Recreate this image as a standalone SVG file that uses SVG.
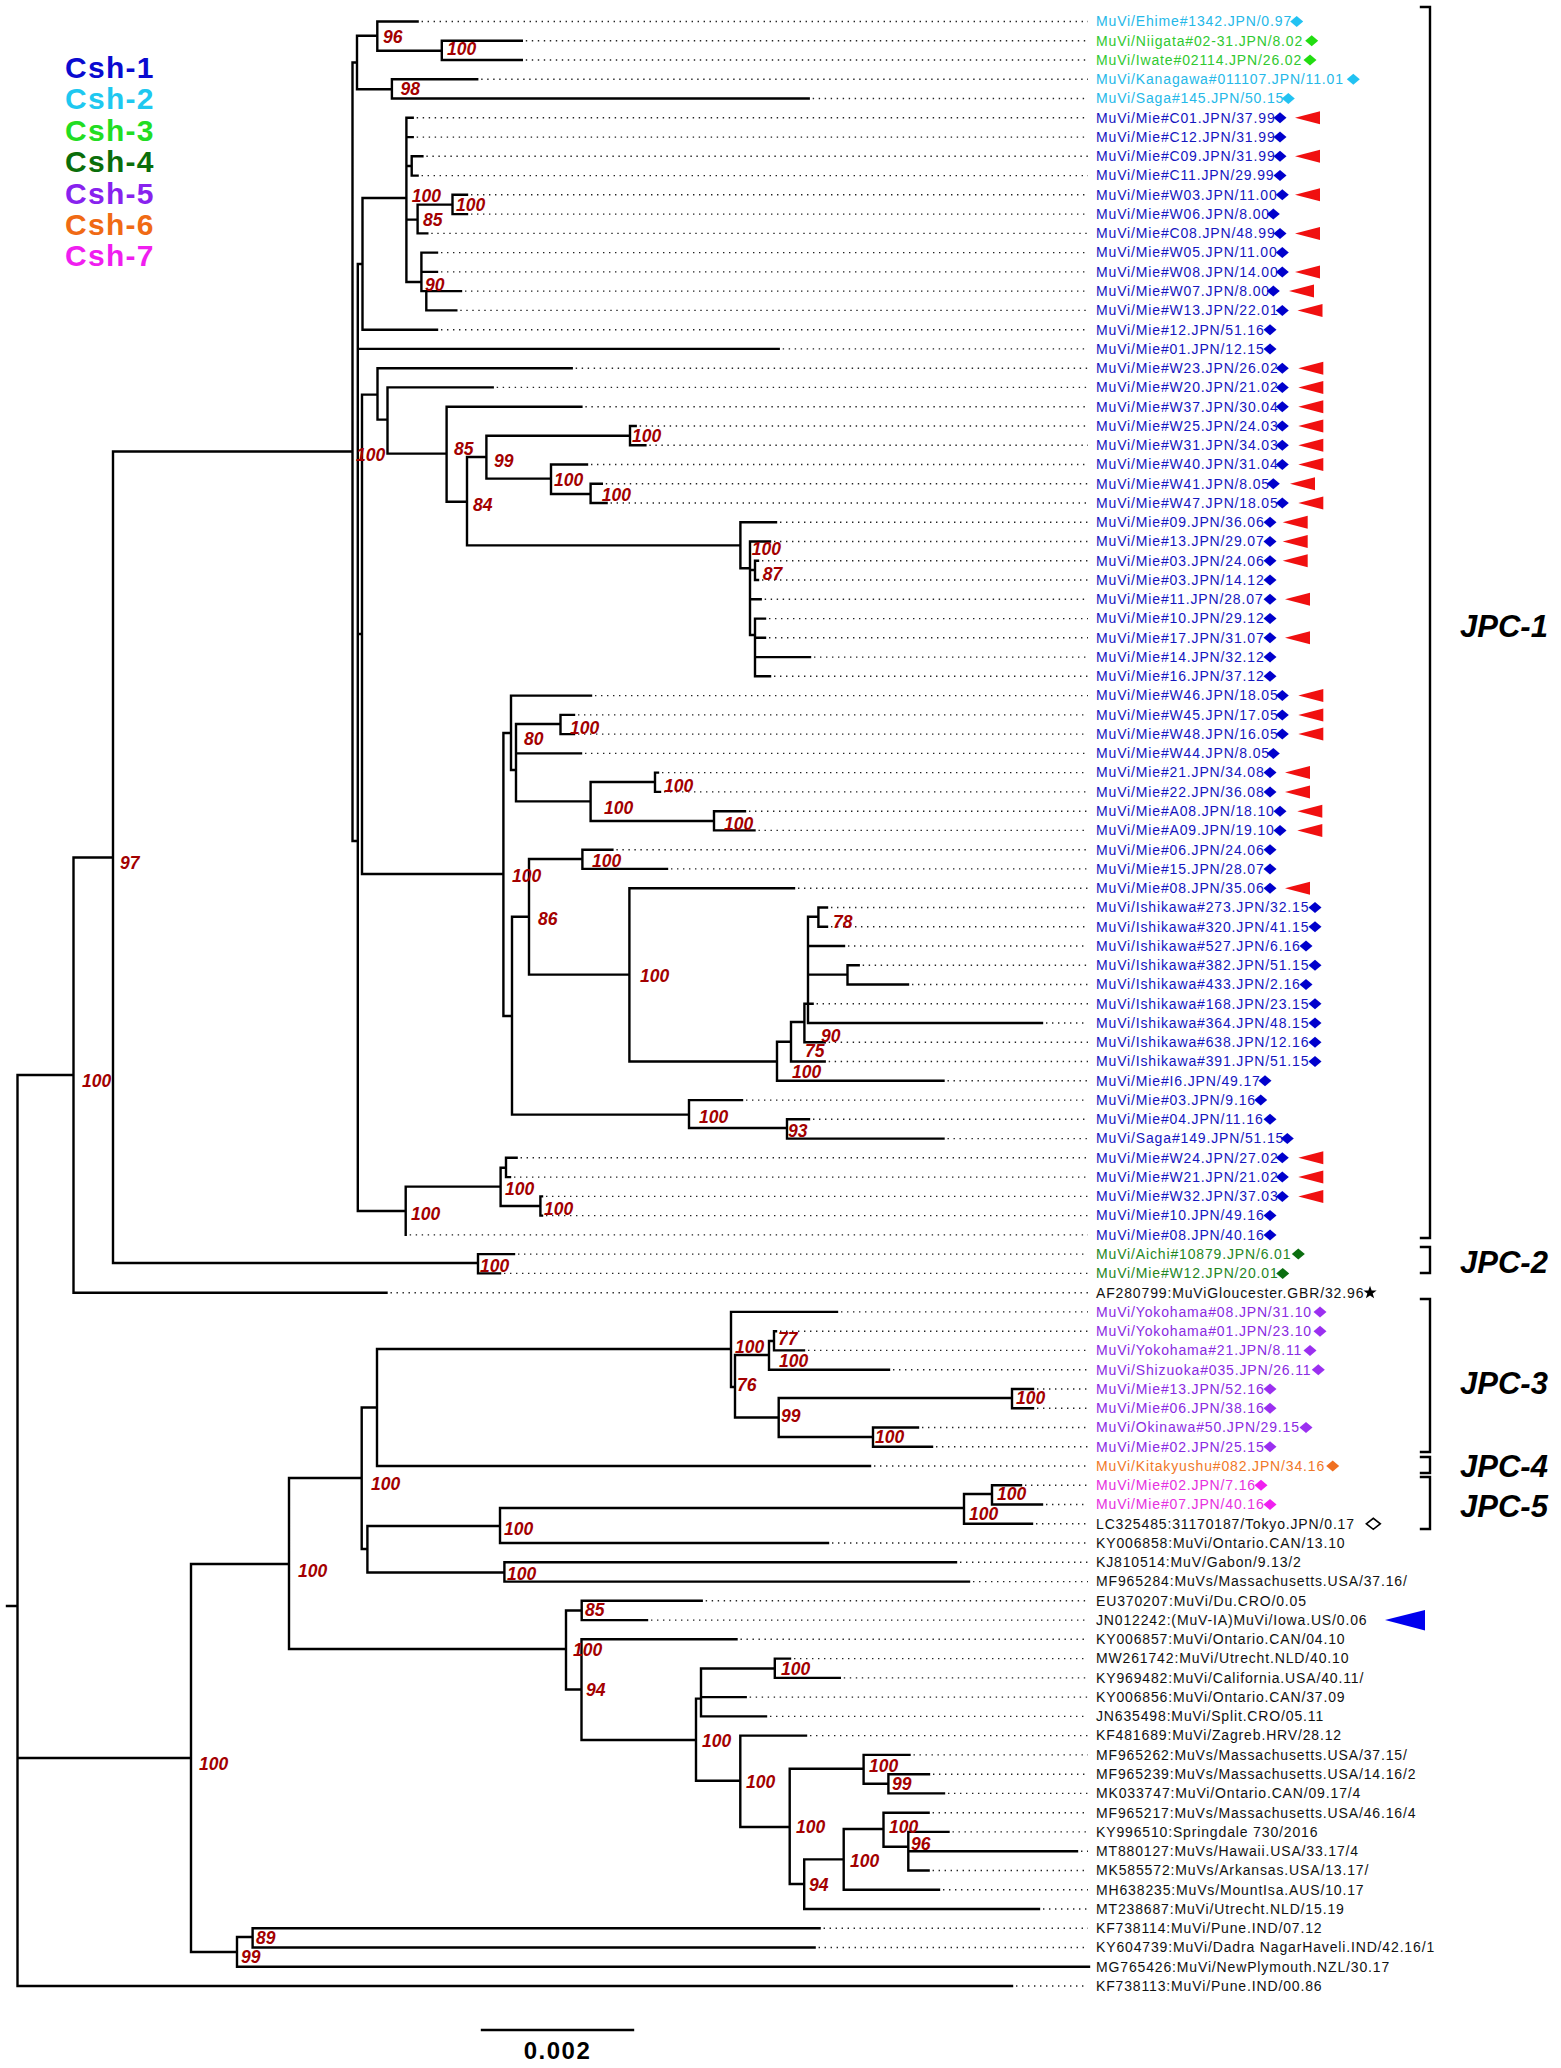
<svg xmlns="http://www.w3.org/2000/svg" xmlns:xlink="http://www.w3.org/1999/xlink" width="1561" height="2068" viewBox="0 0 1561 2068">
<style>
.br{fill:none;stroke:#000;stroke-width:2.4;stroke-linecap:square}
.dt{fill:none;stroke:#222;stroke-width:1.4;stroke-dasharray:1.4 4.6}
.bs{font-family:"Liberation Sans",Arial,sans-serif;font-size:17.5px;font-weight:bold;font-style:italic;fill:#a30000}
.lb{font-family:"Liberation Sans",Arial,sans-serif;font-size:14px;letter-spacing:0.85px}
.lg{font-family:"Liberation Sans",Arial,sans-serif;font-size:30px;font-weight:bold;letter-spacing:1.3px}
.jp{font-family:"Liberation Sans",Arial,sans-serif;font-size:31px;font-weight:bold;font-style:italic;fill:#000}
.c1{fill:#1515c0}.c2{fill:#25b8e8}.c3{fill:#30c830}.c4{fill:#1f861f}.c5{fill:#8a2be2}.c6{fill:#f07828}.c7{fill:#e630e0}.c0{fill:#111}
.d1{fill:#0000cc}.d2{fill:#22c2f2}.d3{fill:#22dd11}.d4{fill:#0b6e10}.d5{fill:#9b30f0}.d6{fill:#f07020}.d7{fill:#f020f0}
.ra{fill:#f01010}
</style>
<defs>
<path id="dm" d="M-6.5 0L0-5.5L6.5 0L0 5.5Z"/>
<path id="ra" d="M0 0L25-6.5V6.5Z"/>
</defs>
<g id="legend">
<text class="lg" x="65" y="78" fill="#0a0ad0">Csh-1</text>
<text class="lg" x="65" y="109.4" fill="#1ec8f0">Csh-2</text>
<text class="lg" x="65" y="140.8" fill="#22dd22">Csh-3</text>
<text class="lg" x="65" y="172.2" fill="#0a6e0a">Csh-4</text>
<text class="lg" x="65" y="203.6" fill="#8822ee">Csh-5</text>
<text class="lg" x="65" y="235" fill="#f06a14">Csh-6</text>
<text class="lg" x="65" y="266.4" fill="#f01ef0">Csh-7</text>
</g>
<g id="connectors">
<path class="br" d="M7 1606H17.5M17.5 1075V1986M17.5 1075H73.5M17.5 1758H191M17.5 1986H1012
M73.5 857.5V1292.7M73.5 857.5H113M73.5 1292.7H386.5
M113 451.5V1263M113 451.5H352.5M113 1263H478
M478 1254.1V1273.4M478 1254.1H514M478 1273.4H500
M352.5 62.5V841M352.5 62.5H357M352.5 841H357.8
M357 35.7V89.3M357 35.7H377.3M357 89.3H391.9
M377.3 21.5V50.7M377.3 21.5H417.6M377.3 50.7H441.8
M441.8 40.8V60M441.8 40.8H521.8M441.8 60H521.8
M391.9 79.3V98.5M391.9 79.3H477.2M391.9 98.5H808.7
M357.8 264V1211M357.8 264H362.5M357.8 348.9H778.7M357.8 634H362M357.8 1211H405.7
M362.5 198V329.7M362.5 198H406.4M362.5 329.7H437
M406.4 117.8V282M406.4 117.8H412.7M406.4 137.1H412.7M406.4 166H411.7M406.4 219.6H417.6M406.4 282H421.4
M411.7 156.3V175.6M411.7 156.3H422.4M411.7 175.6H417.6
M417.6 204.6V233.4M417.6 204.6H452.5M417.6 233.4H427.3
M452.5 194.8V214.1M452.5 194.8H467M452.5 214.1H467
M421.4 252.6V291.1M421.4 252.6H437M421.4 271.9H437M421.4 291.1H426.3
M426.3 291.1V310.4M426.3 291.1H461M426.3 310.4H456.3
M362 394.6V874M362 394.6H377.5M362 874H503.4
M377.5 368.2V419.6M377.5 368.2H571.7M377.5 419.6H387.5
M387.5 387.4V453.6M387.5 387.4H492.7M387.5 453.6H446.6
M446.6 406.7V501.8M446.6 406.7H581.4M446.6 501.8H467
M467 457V545.4M467 457H486.4M467 545.4H740.4
M486.4 435.7V478.6M486.4 435.7H630M486.4 478.6H551
M630 426V445.2M630 426H635.7M630 445.2H645.4
M551 464.5V494M551 464.5H587M551 494H590.6
M590.6 483.7V503M590.6 483.7H601.8M590.6 503H606.6
M740.4 522.3V568.3M740.4 522.3H776M740.4 568.3H750
M750 541.5V635M750 541.5H770M750 570H755M750 599.3H760.7M750 635H755
M755 560.8V580M755 560.8H758M755 580H758
M755 618.6V676.3M755 618.6H765M755 637.8H765M755 657.1H810M755 676.3H770
M503.4 733V1016M503.4 733H511M503.4 1016H512
M511 695.6V770M511 695.6H591M511 770H516
M516 724V801.4M516 724H560.5M516 753.4H581M516 801.4H590.6
M560.5 714.9V734.1M560.5 714.9H574M560.5 734.1H574
M590.6 782V821M590.6 782H655M590.6 821H714
M655 772.6V791.9M655 772.6H658M655 791.9H660
M714 811.2V830.4M714 811.2H745M714 830.4H754.5
M512 916.7V1114.6M512 916.7H529M512 1114.6H689
M529 859V974.6M529 859H582.4M529 974.6H629.4
M582.4 849.7V868.9M582.4 849.7H612.4M582.4 868.9H667
M629.4 888.2V1061.5M629.4 888.2H794M629.4 1061.5H777
M777 1041.8V1080.8M777 1041.8H791M777 1080.8H943.5
M791 1022V1061.5M791 1022H804.4M791 1061.5H824.7
M804.4 1003.8V1042.3M804.4 1003.8H808M804.4 1042.3H824.7
M808 916.8V1023M808 916.8H818.4M808 946H844M808 974.6H847.5M808 1003.8H812.6M808 1023H1042
M818.4 907.5V926.7M818.4 907.5H827M818.4 926.7H827
M847.5 965.2V984.5M847.5 965.2H858.7M847.5 984.5H908
M689 1100.1V1128M689 1100.1H742M689 1128H787
M787 1119.3V1138.6M787 1119.3H809M787 1138.6H943.5
M405.7 1186.6V1234.9M405.7 1186.6H500.6
M500.6 1167.8V1206M500.6 1167.8H506M500.6 1206H540.4
M506 1157.8V1177.1M506 1157.8H516.6M506 1177.1H510
M540.4 1196.4V1215.6M540.4 1196.4H542M540.4 1215.6H542
M191 1564V1952M191 1564H289M191 1952H237
M237 1937V1966.8M237 1937H252.6M237 1966.8H1089
M252.6 1928.2V1947.5M252.6 1928.2H819.6M252.6 1947.5H814.6
M289 1478V1649M289 1478H361.7M289 1649H566
M361.7 1407.5V1549M361.7 1407.5H377M361.7 1549H367.4
M377 1349V1466M377 1349H731M377 1466H870
M731 1311.9V1387M731 1311.9H837M731 1387H735
M735 1355V1417.5M735 1355H769M735 1417.5H778.7
M769 1341V1369.7M769 1341H774M769 1369.7H889
M774 1331.2V1350.4M774 1331.2H776M774 1350.4H804
M778.7 1398V1437M778.7 1398H1012M778.7 1437H873
M1012 1389V1408.2M1012 1389H1033M1012 1408.2H1033
M873 1427.5V1446.7M873 1427.5H918M873 1446.7H932
M367.4 1526V1572.5M367.4 1526H500M367.4 1572.5H504.4
M500 1508V1543M500 1508H964M500 1543H828
M964 1494V1523.8M964 1494H992M964 1523.8H1032
M992 1485.3V1504.5M992 1485.3H1021M992 1504.5H1042
M504.4 1562.3V1581.6M504.4 1562.3H956M504.4 1581.6H969
M566 1610.5V1689.5M566 1610.5H581.7M566 1689.5H581.5
M581.7 1600.8V1620.1M581.7 1600.8H701.7M581.7 1620.1H647
M581.5 1639.3V1740M581.5 1639.3H736.5M581.5 1740H696
M696 1698.6V1780.8M696 1698.6H701M696 1780.8H740.3
M701 1668.5V1716.4M701 1668.5H774.8M701 1697.1H745.7M701 1716.4H766
M774.8 1658.6V1677.9M774.8 1658.6H790M774.8 1677.9H839.8
M740.3 1735.6V1827M740.3 1735.6H806M740.3 1827H789.7
M789.7 1768.8V1884M789.7 1768.8H863.6M789.7 1884H804.2
M863.6 1754.9V1783.7M863.6 1754.9H909.5M863.6 1783.7H888.4
M888.4 1774.2V1793.4M888.4 1774.2H929M888.4 1793.4H944
M804.2 1859.4V1909M804.2 1859.4H843.7M804.2 1909H1039
M843.7 1829V1889.7M843.7 1829H883.5M843.7 1889.7H939
M883.5 1812.7V1846.7M883.5 1812.7H928.6M883.5 1846.7H908.3
M908.3 1831.9V1870.5M908.3 1831.9H948.5M908.3 1851.2H1077M908.3 1870.5H928.6"/>
<path class="dt" d="M421.6 21.5H1088M525.8 40.8H1088M525.8 60H1088M481.2 79.3H1088M812.7 98.5H1088M416.7 117.8H1088M416.7 137.1H1088M426.4 156.3H1088M421.6 175.6H1088M471 194.8H1088M471 214.1H1088M431.3 233.4H1088M441 252.6H1088M441 271.9H1088M465 291.1H1088M460.3 310.4H1088M441 329.7H1088M782.7 348.9H1088M575.7 368.2H1088M496.7 387.4H1088M585.4 406.7H1088M639.7 426H1088M649.4 445.2H1088M591 464.5H1088M605.8 483.7H1088M610.6 503H1088M780 522.3H1088M774 541.5H1088M762 560.8H1088M762 580H1088M764.7 599.3H1088M769 618.6H1088M769 637.8H1088M814 657.1H1088M774 676.3H1088M595 695.6H1088M578 714.9H1088M578 734.1H1088M585 753.4H1088M662 772.6H1088M664 791.9H1088M749 811.2H1088M758.5 830.4H1088M616.4 849.7H1088M671 868.9H1088M798 888.2H1088M831 907.5H1088M831 926.7H1088M848 946H1088M862.7 965.2H1088M912 984.5H1088M816.6 1003.8H1088M1046 1023H1088M828.7 1042.3H1088M828.7 1061.5H1088M947.5 1080.8H1088M746 1100.1H1088M813 1119.3H1088M947.5 1138.6H1088M520.6 1157.8H1088M514 1177.1H1088M546 1196.4H1088M546 1215.6H1088M409.7 1234.9H1088M518 1254.1H1088M504 1273.4H1088M390.5 1292.7H1088M841 1311.9H1088M780 1331.2H1088M808 1350.4H1088M893 1369.7H1088M1037 1389H1088M1037 1408.2H1088M922 1427.5H1088M936 1446.7H1088M874 1466H1088M1025 1485.3H1088M1046 1504.5H1088M1036 1523.8H1088M832 1543H1088M960 1562.3H1088M973 1581.6H1088M705.7 1600.8H1088M651 1620.1H1088M740.5 1639.3H1088M794 1658.6H1088M843.8 1677.9H1088M749.7 1697.1H1088M770 1716.4H1088M810 1735.6H1088M913.5 1754.9H1088M933 1774.2H1088M948 1793.4H1088M932.6 1812.7H1088M952.5 1831.9H1088M1081 1851.2H1088M932.6 1870.5H1088M943 1889.7H1088M1043 1909H1088M823.6 1928.2H1088M818.6 1947.5H1088M1016 1986H1088"/>
</g>
<g id="support">
<text class="bs" x="383" y="42.8">96</text>
<text class="bs" x="447" y="55.3">100</text>
<text class="bs" x="400.6" y="94.6">98</text>
<text class="bs" x="411.7" y="202.4">100</text>
<text class="bs" x="456" y="211">100</text>
<text class="bs" x="423" y="225.6">85</text>
<text class="bs" x="425" y="290.6">90</text>
<text class="bs" x="356" y="461">100</text>
<text class="bs" x="454" y="455">85</text>
<text class="bs" x="494" y="466.7">99</text>
<text class="bs" x="632" y="442.4">100</text>
<text class="bs" x="554" y="486">100</text>
<text class="bs" x="601.8" y="500.6">100</text>
<text class="bs" x="473" y="511">84</text>
<text class="bs" x="751.7" y="555.3">100</text>
<text class="bs" x="762.7" y="580">87</text>
<text class="bs" x="570" y="733.5">100</text>
<text class="bs" x="524" y="745">80</text>
<text class="bs" x="604" y="814">100</text>
<text class="bs" x="664" y="791.7">100</text>
<text class="bs" x="724" y="830">100</text>
<text class="bs" x="592" y="867">100</text>
<text class="bs" x="512" y="882">100</text>
<text class="bs" x="538" y="925">86</text>
<text class="bs" x="833" y="928">78</text>
<text class="bs" x="640" y="982.4">100</text>
<text class="bs" x="821" y="1042">90</text>
<text class="bs" x="805" y="1057">75</text>
<text class="bs" x="792" y="1078">100</text>
<text class="bs" x="699" y="1122.8">100</text>
<text class="bs" x="788" y="1137">93</text>
<text class="bs" x="505" y="1195">100</text>
<text class="bs" x="544" y="1214.6">100</text>
<text class="bs" x="411" y="1219.7">100</text>
<text class="bs" x="480" y="1272">100</text>
<text class="bs" x="120" y="869">97</text>
<text class="bs" x="82" y="1087">100</text>
<text class="bs" x="735" y="1353">100</text>
<text class="bs" x="778" y="1345">77</text>
<text class="bs" x="779" y="1367">100</text>
<text class="bs" x="737" y="1391">76</text>
<text class="bs" x="1016" y="1404">100</text>
<text class="bs" x="781" y="1422">99</text>
<text class="bs" x="875" y="1443">100</text>
<text class="bs" x="371" y="1490">100</text>
<text class="bs" x="997" y="1500">100</text>
<text class="bs" x="969" y="1520">100</text>
<text class="bs" x="504" y="1535">100</text>
<text class="bs" x="298" y="1577">100</text>
<text class="bs" x="507" y="1580">100</text>
<text class="bs" x="585" y="1616">85</text>
<text class="bs" x="573" y="1656">100</text>
<text class="bs" x="781" y="1674.5">100</text>
<text class="bs" x="586" y="1696">94</text>
<text class="bs" x="702" y="1747">100</text>
<text class="bs" x="869" y="1772">100</text>
<text class="bs" x="746" y="1788">100</text>
<text class="bs" x="892" y="1790">99</text>
<text class="bs" x="796" y="1833">100</text>
<text class="bs" x="889" y="1833">100</text>
<text class="bs" x="911" y="1850">96</text>
<text class="bs" x="850" y="1866.5">100</text>
<text class="bs" x="809" y="1891">94</text>
<text class="bs" x="199" y="1770">100</text>
<text class="bs" x="256" y="1944">89</text>
<text class="bs" x="241" y="1963">99</text>
</g>
<g id="leaves">
<g id="leaf-0"><text class="lb c2" x="1096" y="26.3">MuVi/Ehime#1342.JPN/0.97</text><use xlink:href="#dm" class="d2" x="1296.7" y="21.5"/></g>
<g id="leaf-1"><text class="lb c3" x="1096" y="45.6">MuVi/Niigata#02-31.JPN/8.02</text><use xlink:href="#dm" class="d3" x="1311.7" y="40.8"/></g>
<g id="leaf-2"><text class="lb c3" x="1096" y="64.8">MuVi/Iwate#02114.JPN/26.02</text><use xlink:href="#dm" class="d3" x="1310" y="60"/></g>
<g id="leaf-3"><text class="lb c2" x="1096" y="84.1">MuVi/Kanagawa#011107.JPN/11.01</text><use xlink:href="#dm" class="d2" x="1353.3" y="79.3"/></g>
<g id="leaf-4"><text class="lb c2" x="1096" y="103.3">MuVi/Saga#145.JPN/50.15</text><use xlink:href="#dm" class="d2" x="1288.3" y="98.5"/></g>
<g id="leaf-5"><text class="lb c1" x="1096" y="122.6">MuVi/Mie#C01.JPN/37.99</text><use xlink:href="#dm" class="d1" x="1280" y="117.8"/><use xlink:href="#ra" class="ra" x="1295" y="117.8"/></g>
<g id="leaf-6"><text class="lb c1" x="1096" y="141.9">MuVi/Mie#C12.JPN/31.99</text><use xlink:href="#dm" class="d1" x="1280" y="137.1"/></g>
<g id="leaf-7"><text class="lb c1" x="1096" y="161.1">MuVi/Mie#C09.JPN/31.99</text><use xlink:href="#dm" class="d1" x="1280" y="156.3"/><use xlink:href="#ra" class="ra" x="1295" y="156.3"/></g>
<g id="leaf-8"><text class="lb c1" x="1096" y="180.4">MuVi/Mie#C11.JPN/29.99</text><use xlink:href="#dm" class="d1" x="1280" y="175.6"/></g>
<g id="leaf-9"><text class="lb c1" x="1096" y="199.6">MuVi/Mie#W03.JPN/11.00</text><use xlink:href="#dm" class="d1" x="1282.3" y="194.8"/><use xlink:href="#ra" class="ra" x="1295" y="194.8"/></g>
<g id="leaf-10"><text class="lb c1" x="1096" y="218.9">MuVi/Mie#W06.JPN/8.00</text><use xlink:href="#dm" class="d1" x="1273.3" y="214.1"/></g>
<g id="leaf-11"><text class="lb c1" x="1096" y="238.2">MuVi/Mie#C08.JPN/48.99</text><use xlink:href="#dm" class="d1" x="1280" y="233.4"/><use xlink:href="#ra" class="ra" x="1295" y="233.4"/></g>
<g id="leaf-12"><text class="lb c1" x="1096" y="257.4">MuVi/Mie#W05.JPN/11.00</text><use xlink:href="#dm" class="d1" x="1282.3" y="252.6"/></g>
<g id="leaf-13"><text class="lb c1" x="1096" y="276.7">MuVi/Mie#W08.JPN/14.00</text><use xlink:href="#dm" class="d1" x="1282.3" y="271.9"/><use xlink:href="#ra" class="ra" x="1295" y="271.9"/></g>
<g id="leaf-14"><text class="lb c1" x="1096" y="295.9">MuVi/Mie#W07.JPN/8.00</text><use xlink:href="#dm" class="d1" x="1273.3" y="291.1"/><use xlink:href="#ra" class="ra" x="1289" y="291.1"/></g>
<g id="leaf-15"><text class="lb c1" x="1096" y="315.2">MuVi/Mie#W13.JPN/22.01</text><use xlink:href="#dm" class="d1" x="1282.3" y="310.4"/><use xlink:href="#ra" class="ra" x="1297.5" y="310.4"/></g>
<g id="leaf-16"><text class="lb c1" x="1096" y="334.5">MuVi/Mie#12.JPN/51.16</text><use xlink:href="#dm" class="d1" x="1270" y="329.7"/></g>
<g id="leaf-17"><text class="lb c1" x="1096" y="353.7">MuVi/Mie#01.JPN/12.15</text><use xlink:href="#dm" class="d1" x="1270" y="348.9"/></g>
<g id="leaf-18"><text class="lb c1" x="1096" y="373">MuVi/Mie#W23.JPN/26.02</text><use xlink:href="#dm" class="d1" x="1282.3" y="368.2"/><use xlink:href="#ra" class="ra" x="1298.3" y="368.2"/></g>
<g id="leaf-19"><text class="lb c1" x="1096" y="392.2">MuVi/Mie#W20.JPN/21.02</text><use xlink:href="#dm" class="d1" x="1282.3" y="387.4"/><use xlink:href="#ra" class="ra" x="1298.3" y="387.4"/></g>
<g id="leaf-20"><text class="lb c1" x="1096" y="411.5">MuVi/Mie#W37.JPN/30.04</text><use xlink:href="#dm" class="d1" x="1282.3" y="406.7"/><use xlink:href="#ra" class="ra" x="1298.3" y="406.7"/></g>
<g id="leaf-21"><text class="lb c1" x="1096" y="430.8">MuVi/Mie#W25.JPN/24.03</text><use xlink:href="#dm" class="d1" x="1282.3" y="426"/><use xlink:href="#ra" class="ra" x="1298.3" y="426"/></g>
<g id="leaf-22"><text class="lb c1" x="1096" y="450">MuVi/Mie#W31.JPN/34.03</text><use xlink:href="#dm" class="d1" x="1282.3" y="445.2"/><use xlink:href="#ra" class="ra" x="1298.3" y="445.2"/></g>
<g id="leaf-23"><text class="lb c1" x="1096" y="469.3">MuVi/Mie#W40.JPN/31.04</text><use xlink:href="#dm" class="d1" x="1282.3" y="464.5"/><use xlink:href="#ra" class="ra" x="1298.3" y="464.5"/></g>
<g id="leaf-24"><text class="lb c1" x="1096" y="488.5">MuVi/Mie#W41.JPN/8.05</text><use xlink:href="#dm" class="d1" x="1273.3" y="483.7"/><use xlink:href="#ra" class="ra" x="1290" y="483.7"/></g>
<g id="leaf-25"><text class="lb c1" x="1096" y="507.8">MuVi/Mie#W47.JPN/18.05</text><use xlink:href="#dm" class="d1" x="1282.3" y="503"/><use xlink:href="#ra" class="ra" x="1298.3" y="503"/></g>
<g id="leaf-26"><text class="lb c1" x="1096" y="527.1">MuVi/Mie#09.JPN/36.06</text><use xlink:href="#dm" class="d1" x="1270" y="522.3"/><use xlink:href="#ra" class="ra" x="1282.7" y="522.3"/></g>
<g id="leaf-27"><text class="lb c1" x="1096" y="546.3">MuVi/Mie#13.JPN/29.07</text><use xlink:href="#dm" class="d1" x="1270" y="541.5"/><use xlink:href="#ra" class="ra" x="1282.7" y="541.5"/></g>
<g id="leaf-28"><text class="lb c1" x="1096" y="565.6">MuVi/Mie#03.JPN/24.06</text><use xlink:href="#dm" class="d1" x="1270" y="560.8"/><use xlink:href="#ra" class="ra" x="1282.7" y="560.8"/></g>
<g id="leaf-29"><text class="lb c1" x="1096" y="584.8">MuVi/Mie#03.JPN/14.12</text><use xlink:href="#dm" class="d1" x="1270" y="580"/></g>
<g id="leaf-30"><text class="lb c1" x="1096" y="604.1">MuVi/Mie#11.JPN/28.07</text><use xlink:href="#dm" class="d1" x="1270" y="599.3"/><use xlink:href="#ra" class="ra" x="1285" y="599.3"/></g>
<g id="leaf-31"><text class="lb c1" x="1096" y="623.4">MuVi/Mie#10.JPN/29.12</text><use xlink:href="#dm" class="d1" x="1270" y="618.6"/></g>
<g id="leaf-32"><text class="lb c1" x="1096" y="642.6">MuVi/Mie#17.JPN/31.07</text><use xlink:href="#dm" class="d1" x="1270" y="637.8"/><use xlink:href="#ra" class="ra" x="1285" y="637.8"/></g>
<g id="leaf-33"><text class="lb c1" x="1096" y="661.9">MuVi/Mie#14.JPN/32.12</text><use xlink:href="#dm" class="d1" x="1270" y="657.1"/></g>
<g id="leaf-34"><text class="lb c1" x="1096" y="681.1">MuVi/Mie#16.JPN/37.12</text><use xlink:href="#dm" class="d1" x="1270" y="676.3"/></g>
<g id="leaf-35"><text class="lb c1" x="1096" y="700.4">MuVi/Mie#W46.JPN/18.05</text><use xlink:href="#dm" class="d1" x="1282.3" y="695.6"/><use xlink:href="#ra" class="ra" x="1298.3" y="695.6"/></g>
<g id="leaf-36"><text class="lb c1" x="1096" y="719.7">MuVi/Mie#W45.JPN/17.05</text><use xlink:href="#dm" class="d1" x="1282.3" y="714.9"/><use xlink:href="#ra" class="ra" x="1298.3" y="714.9"/></g>
<g id="leaf-37"><text class="lb c1" x="1096" y="738.9">MuVi/Mie#W48.JPN/16.05</text><use xlink:href="#dm" class="d1" x="1282.3" y="734.1"/><use xlink:href="#ra" class="ra" x="1298.3" y="734.1"/></g>
<g id="leaf-38"><text class="lb c1" x="1096" y="758.2">MuVi/Mie#W44.JPN/8.05</text><use xlink:href="#dm" class="d1" x="1273.3" y="753.4"/></g>
<g id="leaf-39"><text class="lb c1" x="1096" y="777.4">MuVi/Mie#21.JPN/34.08</text><use xlink:href="#dm" class="d1" x="1270" y="772.6"/><use xlink:href="#ra" class="ra" x="1285" y="772.6"/></g>
<g id="leaf-40"><text class="lb c1" x="1096" y="796.7">MuVi/Mie#22.JPN/36.08</text><use xlink:href="#dm" class="d1" x="1270" y="791.9"/><use xlink:href="#ra" class="ra" x="1285" y="791.9"/></g>
<g id="leaf-41"><text class="lb c1" x="1096" y="816">MuVi/Mie#A08.JPN/18.10</text><use xlink:href="#dm" class="d1" x="1280" y="811.2"/><use xlink:href="#ra" class="ra" x="1297.3" y="811.2"/></g>
<g id="leaf-42"><text class="lb c1" x="1096" y="835.2">MuVi/Mie#A09.JPN/19.10</text><use xlink:href="#dm" class="d1" x="1280" y="830.4"/><use xlink:href="#ra" class="ra" x="1297.3" y="830.4"/></g>
<g id="leaf-43"><text class="lb c1" x="1096" y="854.5">MuVi/Mie#06.JPN/24.06</text><use xlink:href="#dm" class="d1" x="1270" y="849.7"/></g>
<g id="leaf-44"><text class="lb c1" x="1096" y="873.7">MuVi/Mie#15.JPN/28.07</text><use xlink:href="#dm" class="d1" x="1270" y="868.9"/></g>
<g id="leaf-45"><text class="lb c1" x="1096" y="893">MuVi/Mie#08.JPN/35.06</text><use xlink:href="#dm" class="d1" x="1270" y="888.2"/><use xlink:href="#ra" class="ra" x="1285" y="888.2"/></g>
<g id="leaf-46"><text class="lb c1" x="1096" y="912.3">MuVi/Ishikawa#273.JPN/32.15</text><use xlink:href="#dm" class="d1" x="1315" y="907.5"/></g>
<g id="leaf-47"><text class="lb c1" x="1096" y="931.5">MuVi/Ishikawa#320.JPN/41.15</text><use xlink:href="#dm" class="d1" x="1315" y="926.7"/></g>
<g id="leaf-48"><text class="lb c1" x="1096" y="950.8">MuVi/Ishikawa#527.JPN/6.16</text><use xlink:href="#dm" class="d1" x="1306" y="946"/></g>
<g id="leaf-49"><text class="lb c1" x="1096" y="970">MuVi/Ishikawa#382.JPN/51.15</text><use xlink:href="#dm" class="d1" x="1315" y="965.2"/></g>
<g id="leaf-50"><text class="lb c1" x="1096" y="989.3">MuVi/Ishikawa#433.JPN/2.16</text><use xlink:href="#dm" class="d1" x="1306" y="984.5"/></g>
<g id="leaf-51"><text class="lb c1" x="1096" y="1008.6">MuVi/Ishikawa#168.JPN/23.15</text><use xlink:href="#dm" class="d1" x="1315" y="1003.8"/></g>
<g id="leaf-52"><text class="lb c1" x="1096" y="1027.8">MuVi/Ishikawa#364.JPN/48.15</text><use xlink:href="#dm" class="d1" x="1315" y="1023"/></g>
<g id="leaf-53"><text class="lb c1" x="1096" y="1047.1">MuVi/Ishikawa#638.JPN/12.16</text><use xlink:href="#dm" class="d1" x="1315" y="1042.3"/></g>
<g id="leaf-54"><text class="lb c1" x="1096" y="1066.3">MuVi/Ishikawa#391.JPN/51.15</text><use xlink:href="#dm" class="d1" x="1315" y="1061.5"/></g>
<g id="leaf-55"><text class="lb c1" x="1096" y="1085.6">MuVi/Mie#I6.JPN/49.17</text><use xlink:href="#dm" class="d1" x="1265" y="1080.8"/></g>
<g id="leaf-56"><text class="lb c1" x="1096" y="1104.9">MuVi/Mie#03.JPN/9.16</text><use xlink:href="#dm" class="d1" x="1260.7" y="1100.1"/></g>
<g id="leaf-57"><text class="lb c1" x="1096" y="1124.1">MuVi/Mie#04.JPN/11.16</text><use xlink:href="#dm" class="d1" x="1270" y="1119.3"/></g>
<g id="leaf-58"><text class="lb c1" x="1096" y="1143.4">MuVi/Saga#149.JPN/51.15</text><use xlink:href="#dm" class="d1" x="1287.3" y="1138.6"/></g>
<g id="leaf-59"><text class="lb c1" x="1096" y="1162.6">MuVi/Mie#W24.JPN/27.02</text><use xlink:href="#dm" class="d1" x="1282.3" y="1157.8"/><use xlink:href="#ra" class="ra" x="1298.3" y="1157.8"/></g>
<g id="leaf-60"><text class="lb c1" x="1096" y="1181.9">MuVi/Mie#W21.JPN/21.02</text><use xlink:href="#dm" class="d1" x="1282.3" y="1177.1"/><use xlink:href="#ra" class="ra" x="1298.3" y="1177.1"/></g>
<g id="leaf-61"><text class="lb c1" x="1096" y="1201.2">MuVi/Mie#W32.JPN/37.03</text><use xlink:href="#dm" class="d1" x="1282.3" y="1196.4"/><use xlink:href="#ra" class="ra" x="1298.3" y="1196.4"/></g>
<g id="leaf-62"><text class="lb c1" x="1096" y="1220.4">MuVi/Mie#10.JPN/49.16</text><use xlink:href="#dm" class="d1" x="1270" y="1215.6"/></g>
<g id="leaf-63"><text class="lb c1" x="1096" y="1239.7">MuVi/Mie#08.JPN/40.16</text><use xlink:href="#dm" class="d1" x="1270" y="1234.9"/></g>
<g id="leaf-64"><text class="lb c4" x="1096" y="1258.9">MuVi/Aichi#10879.JPN/6.01</text><use xlink:href="#dm" class="d4" x="1298.3" y="1254.1"/></g>
<g id="leaf-65"><text class="lb c4" x="1096" y="1278.2">MuVi/Mie#W12.JPN/20.01</text><use xlink:href="#dm" class="d4" x="1282.7" y="1273.4"/></g>
<g id="leaf-66"><text class="lb c0" x="1096" y="1297.5">AF280799:MuViGloucester.GBR/32.96</text><polygon fill="#000" points="1370,1285.7 1371.65,1290.43 1376.66,1290.54 1372.66,1293.57 1374.11,1298.36 1370,1295.5 1365.89,1298.36 1367.34,1293.57 1363.34,1290.54 1368.35,1290.43"/></g>
<g id="leaf-67"><text class="lb c5" x="1096" y="1316.7">MuVi/Yokohama#08.JPN/31.10</text><use xlink:href="#dm" class="d5" x="1320" y="1311.9"/></g>
<g id="leaf-68"><text class="lb c5" x="1096" y="1336">MuVi/Yokohama#01.JPN/23.10</text><use xlink:href="#dm" class="d5" x="1320" y="1331.2"/></g>
<g id="leaf-69"><text class="lb c5" x="1096" y="1355.2">MuVi/Yokohama#21.JPN/8.11</text><use xlink:href="#dm" class="d5" x="1310" y="1350.4"/></g>
<g id="leaf-70"><text class="lb c5" x="1096" y="1374.5">MuVi/Shizuoka#035.JPN/26.11</text><use xlink:href="#dm" class="d5" x="1318.3" y="1369.7"/></g>
<g id="leaf-71"><text class="lb c5" x="1096" y="1393.8">MuVi/Mie#13.JPN/52.16</text><use xlink:href="#dm" class="d5" x="1270" y="1389"/></g>
<g id="leaf-72"><text class="lb c5" x="1096" y="1413">MuVi/Mie#06.JPN/38.16</text><use xlink:href="#dm" class="d5" x="1270" y="1408.2"/></g>
<g id="leaf-73"><text class="lb c5" x="1096" y="1432.3">MuVi/Okinawa#50.JPN/29.15</text><use xlink:href="#dm" class="d5" x="1306" y="1427.5"/></g>
<g id="leaf-74"><text class="lb c5" x="1096" y="1451.5">MuVi/Mie#02.JPN/25.15</text><use xlink:href="#dm" class="d5" x="1270" y="1446.7"/></g>
<g id="leaf-75"><text class="lb c6" x="1096" y="1470.8">MuVi/Kitakyushu#082.JPN/34.16</text><use xlink:href="#dm" class="d6" x="1332.7" y="1466"/></g>
<g id="leaf-76"><text class="lb c7" x="1096" y="1490.1">MuVi/Mie#02.JPN/7.16</text><use xlink:href="#dm" class="d7" x="1261" y="1485.3"/></g>
<g id="leaf-77"><text class="lb c7" x="1096" y="1509.3">MuVi/Mie#07.JPN/40.16</text><use xlink:href="#dm" class="d7" x="1270" y="1504.5"/></g>
<g id="leaf-78"><text class="lb c0" x="1096" y="1528.6">LC325485:31170187/Tokyo.JPN/0.17</text><path d="M1366.3 1523.8L1373.3 1518.3L1380.3 1523.8L1373.3 1529.3Z" fill="#fff" stroke="#000" stroke-width="1.6"/></g>
<g id="leaf-79"><text class="lb c0" x="1096" y="1547.8">KY006858:MuVi/Ontario.CAN/13.10</text></g>
<g id="leaf-80"><text class="lb c0" x="1096" y="1567.1">KJ810514:MuV/Gabon/9.13/2</text></g>
<g id="leaf-81"><text class="lb c0" x="1096" y="1586.4">MF965284:MuVs/Massachusetts.USA/37.16/</text></g>
<g id="leaf-82"><text class="lb c0" x="1096" y="1605.6">EU370207:MuVi/Du.CRO/0.05</text></g>
<g id="leaf-83"><text class="lb c0" x="1096" y="1624.9">JN012242:(MuV-IA)MuVi/Iowa.US/0.06</text><path d="M1385 1620.1L1425 1610V1630.5Z" fill="#0000ee"/></g>
<g id="leaf-84"><text class="lb c0" x="1096" y="1644.1">KY006857:MuVi/Ontario.CAN/04.10</text></g>
<g id="leaf-85"><text class="lb c0" x="1096" y="1663.4">MW261742:MuVi/Utrecht.NLD/40.10</text></g>
<g id="leaf-86"><text class="lb c0" x="1096" y="1682.7">KY969482:MuVi/California.USA/40.11/</text></g>
<g id="leaf-87"><text class="lb c0" x="1096" y="1701.9">KY006856:MuVi/Ontario.CAN/37.09</text></g>
<g id="leaf-88"><text class="lb c0" x="1096" y="1721.2">JN635498:MuVi/Split.CRO/05.11</text></g>
<g id="leaf-89"><text class="lb c0" x="1096" y="1740.4">KF481689:MuVi/Zagreb.HRV/28.12</text></g>
<g id="leaf-90"><text class="lb c0" x="1096" y="1759.7">MF965262:MuVs/Massachusetts.USA/37.15/</text></g>
<g id="leaf-91"><text class="lb c0" x="1096" y="1779">MF965239:MuVs/Massachusetts.USA/14.16/2</text></g>
<g id="leaf-92"><text class="lb c0" x="1096" y="1798.2">MK033747:MuVi/Ontario.CAN/09.17/4</text></g>
<g id="leaf-93"><text class="lb c0" x="1096" y="1817.5">MF965217:MuVs/Massachusetts.USA/46.16/4</text></g>
<g id="leaf-94"><text class="lb c0" x="1096" y="1836.7">KY996510:Springdale 730/2016</text></g>
<g id="leaf-95"><text class="lb c0" x="1096" y="1856">MT880127:MuVs/Hawaii.USA/33.17/4</text></g>
<g id="leaf-96"><text class="lb c0" x="1096" y="1875.3">MK585572:MuVs/Arkansas.USA/13.17/</text></g>
<g id="leaf-97"><text class="lb c0" x="1096" y="1894.5">MH638235:MuVs/MountIsa.AUS/10.17</text></g>
<g id="leaf-98"><text class="lb c0" x="1096" y="1913.8">MT238687:MuVi/Utrecht.NLD/15.19</text></g>
<g id="leaf-99"><text class="lb c0" x="1096" y="1933">KF738114:MuVi/Pune.IND/07.12</text></g>
<g id="leaf-100"><text class="lb c0" x="1096" y="1952.3">KY604739:MuVi/Dadra NagarHaveli.IND/42.16/1</text></g>
<g id="leaf-101"><text class="lb c0" x="1096" y="1971.6">MG765426:MuVi/NewPlymouth.NZL/30.17</text></g>
<g id="leaf-102"><text class="lb c0" x="1096" y="1990.8">KF738113:MuVi/Pune.IND/00.86</text></g>
</g>
<g id="clades">
<path class="br" d="M1421 7H1430V1238H1421M1421 1247H1430V1273H1421M1421 1299H1430V1452H1421M1421 1457H1430V1473H1421M1421 1477H1430V1529H1421"/>
<text class="jp" x="1460" y="637">JPC-1</text>
<text class="jp" x="1460" y="1273">JPC-2</text>
<text class="jp" x="1460" y="1394">JPC-3</text>
<text class="jp" x="1460" y="1476.5">JPC-4</text>
<text class="jp" x="1460" y="1516.5">JPC-5</text>
</g>
<g id="scale">
<path class="br" d="M482 2030H633"/>
<text x="557.5" y="2059" text-anchor="middle" font-family="Liberation Sans, Arial, sans-serif" font-size="24" font-weight="bold" letter-spacing="1.5">0.002</text>
</g>
</svg>
